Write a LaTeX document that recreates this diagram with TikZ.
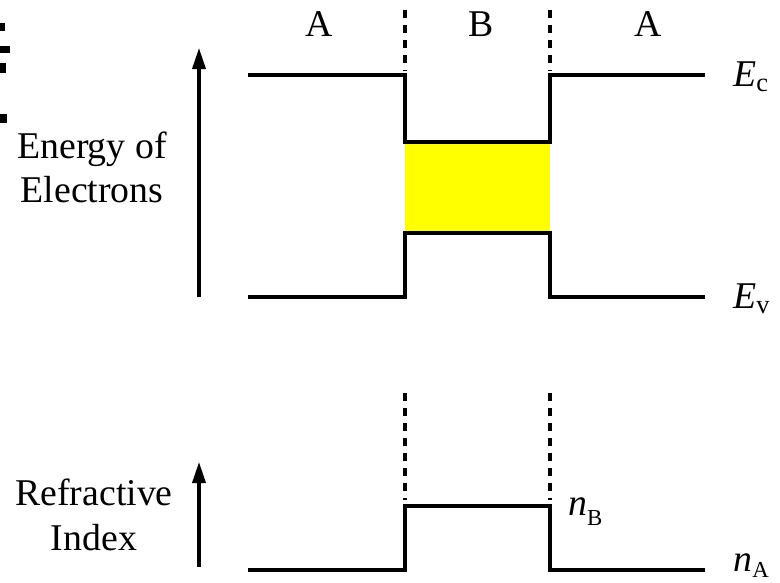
\documentclass[tikz,border=0pt]{standalone}
\usepackage{fontspec}
\setmainfont{Liberation Serif}
\usetikzlibrary{arrows.meta}
\definecolor{gapyellow}{HTML}{FFFF00}
\newcommand{\lowsub}[2]{\raisebox{-#2}{\fontsize{15}{15}\selectfont #1}}

\begin{document}
\begin{tikzpicture}[
    x=0.02cm, y=-0.02cm,
    every node/.style={font=\fontsize{21.5}{25}\selectfont, inner sep=0pt},
    edge/.style={line width=2pt, line join=miter},
    border/.style={line width=1.8pt, dash pattern=on 4.5pt off 4pt},
    axis/.style={line width=1.8pt, -{Triangle[length=12pt,width=7.5pt]}},
    region/.style={anchor=base},
    side/.style={anchor=base west},
    title/.style={anchor=base}
]
\useasboundingbox (0,0) rectangle (780,582);

% Stray marks at the left edge
\fill (0,23) rectangle (5,31);
\fill (0,46) rectangle (10,53);
\fill (0,63) rectangle (6,73);
\fill (0,114) rectangle (7,123);

% Band gap of B
\fill[gapyellow] (405,142) rectangle (550,233);

% Region labels
\node[region] (rA1) at (319,36) {A};
\node[region] (rB) at (481,36) {B};
\node[region] (rA2) at (648,36) {A};

% Boundaries
\draw[border] (405,10) -- (405,70);
\draw[border] (550,10) -- (550,70);
\draw[border] (405,393) -- (405,500);
\draw[border] (550,393) -- (550,500);

% Band edges
\draw[edge] (248,75) -- (405,75) -- (405,142) -- (550,142) -- (550,75) -- (705,75);
\draw[edge] (248,297) -- (405,297) -- (405,233) -- (550,233) -- (550,297) -- (705,297);
\node[side] (ec) at (733,86) {\textit{E}\lowsub{c}{0.3ex}};
\node[side] (ev) at (733,308) {\textit{E}\lowsub{v}{0.3ex}};

% Energy axis
\coordinate (ebot) at (199,297);
\coordinate (etop) at (199,48);
\draw[axis] (ebot) -- (etop);
\node[title] (en1) at (92,158) {Energy of};
\node[title] (en2) at (92,202) {Electrons};

% Refractive index
\draw[edge] (248,570) -- (405,570) -- (405,506) -- (550,506) -- (550,570) -- (705,570);
\node[side] (nb) at (568,515) {\textit{n}\lowsub{\fontsize{13}{13}\selectfont B}{0.6ex}};
\node[side] (na) at (733,571) {\textit{n}\lowsub{\fontsize{13}{13}\selectfont A}{0.4ex}};

\coordinate (nbot) at (199,567);
\coordinate (ntop) at (199,462);
\draw[axis] (nbot) -- (ntop);
\node[title] (ri1) at (94,505) {Refractive};
\node[title] (ri2) at (94,550) {Index};

\end{tikzpicture}
\end{document}
